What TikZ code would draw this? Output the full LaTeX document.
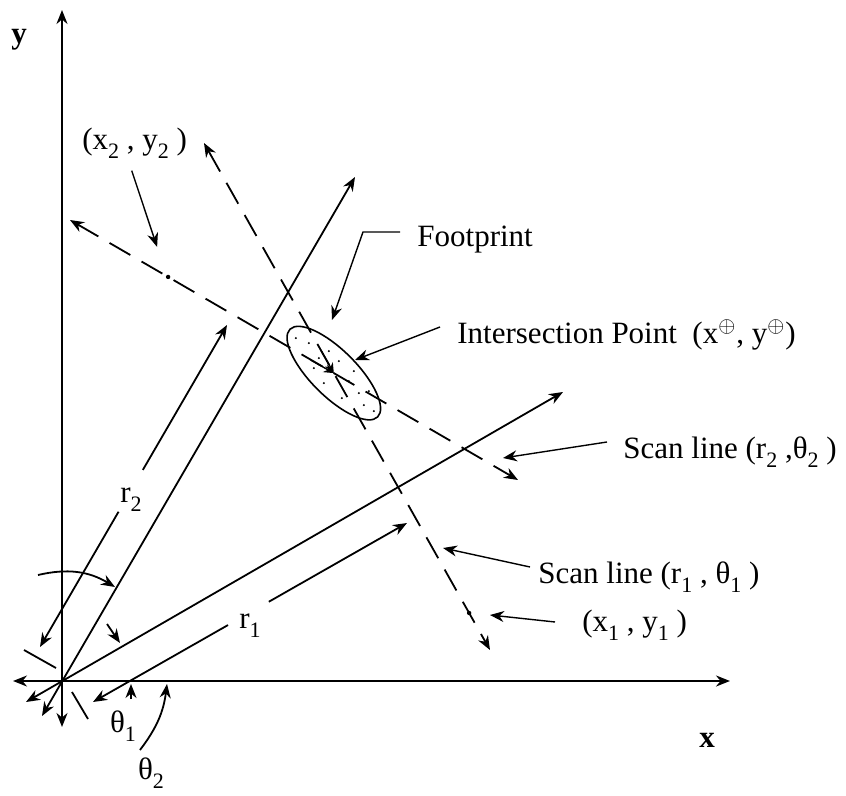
\documentclass[tikz,border=0pt]{standalone}
\usepackage{fontspec}
\setmainfont{Liberation Serif}
\usetikzlibrary{arrows.meta,calc}
\newcommand{\lowsub}[1]{\raisebox{-4.5pt}{\fontsize{11}{11}\selectfont #1}}

\begin{document}
\begin{tikzpicture}[
  x=0.5pt, y=-0.5pt,
  font=\fontsize{15.5}{18}\selectfont,
  ln/.style={line width=0.9pt},
  ar/.style={ln, -{Stealth[length=7pt, width=5.5pt]}},
  dar/.style={ln, {Stealth[length=7pt, width=5.5pt]}-{Stealth[length=7pt, width=5.5pt]}},
  scan/.style={dar, dash pattern=on 12pt off 6.5pt},
  lead/.style={line width=0.7pt, -{Stealth[length=7pt, width=5.5pt]}},
  small/.style={line width=0.7pt, -{Stealth[length=5pt, width=4.5pt]}},
  lbl/.style={inner sep=0pt, anchor=west}
]
\useasboundingbox (0,0) rectangle (846,796);
% axes and the two rays
\coordinate (O) at (62,681);
\coordinate (xl) at (13,681);   \coordinate (xr) at (730,681);
\coordinate (yt) at (62,10);    \coordinate (yb) at (62,727);
\coordinate (rtwo) at (355,177); \coordinate (rtwob) at (42,716);
\coordinate (rone) at (563,392); \coordinate (roneb) at (26,702);
\draw[dar] (xl) -- (xr);
\draw[dar] (yb) -- (yt);
\draw[dar] (rtwob) -- (rtwo);
\draw[dar] (roneb) -- (rone);
% scan lines
\coordinate (sonea) at (204,143); \coordinate (soneb) at (490,650);
\coordinate (stwoa) at (70,220);  \coordinate (stwob) at (518,480);
\draw[scan] (sonea) -- (soneb);
\draw[scan] (stwoa) -- (stwob);
\coordinate (ip) at (intersection of sonea--soneb and stwoa--stwob);
\coordinate (pone) at ($(sonea)!0.927!(soneb)$);
\coordinate (ptwo) at ($(stwoa)!0.219!(stwob)$);
\fill (pone) circle[radius=2.2];
\fill (ptwo) circle[radius=2.2];
% footprint
\draw[line width=0.8pt, rotate around={-45:(ip)}] (ip) ellipse[x radius=62, y radius=23];
\foreach \dx/\dy in {-20/-5, -10/10, 5/-12, 15/8, 25/20, 30/32, -25/-30, 8/25, 20/-2, -5/-22, 35/18, -15/-15, -38/-35, 40/38}
  \fill ([shift={(\dx,\dy)}]ip) circle[radius=1.1];
\draw[small] ([shift={(-13,-23)}]ip) -- (ip);
\draw[small] ([shift={(-23,-13)}]ip) -- (ip);
% dimension lines
\coordinate (dtwoa) at (40,647);  \coordinate (dtwob) at (227,325);
\coordinate (donea) at (93,702);  \coordinate (doneb) at (407,523);
\draw[ar] ($(dtwoa)!0.42!(dtwob)$) -- (dtwoa);
\draw[ar] ($(dtwoa)!0.55!(dtwob)$) -- (dtwob);
\draw[ar] ($(donea)!0.43!(doneb)$) -- (donea);
\draw[ar] ($(donea)!0.56!(doneb)$) -- (doneb);
\draw[ln] (24,650) -- (56,668);
\draw[ln] (72,692) -- (88,719);
\node (rtwolab) at (131,500) {r\lowsub{2}};
\node (ronelab) at (250,626) {r\lowsub{1}};
% angles
\draw[ar] (38,575) to[bend left=22] (115,587);
\draw[ar] (107,624) -- (120,643);
\draw[ar] (131,699) -- (131,684);
\draw[ar] (140,750) to[bend right=15] (167,684);
\node (thonelab) at (123,726) {θ\lowsub{1}};
\node (thtwolab) at (151,773) {θ\lowsub{2}};
\node (ylab) at (19,40) {\textbf{y}};
\node (xlab) at (707,740) {\textbf{x}};
% labels with leaders
\node[lbl] (lbxtwo) at (82,143) {(x\lowsub{2} , y\lowsub{2} )};
\node[lbl] (lbfoot) at (417,240) {Footprint};
\node[lbl] (lbint) at (457,335) {Intersection Point \ (x\textsuperscript{$\oplus$}, y\textsuperscript{$\oplus$})};
\node[lbl] (lbscantwo) at (623,452) {Scan line (r\lowsub{2} ,θ\lowsub{2} )};
\node[lbl] (lbscanone) at (538,577) {Scan line (r\lowsub{1} , θ\lowsub{1} )};
\node[lbl] (lbxone) at (582,625) {(x\lowsub{1} , y\lowsub{1} )};
\draw[lead] ([shift={(-3,12)}]lbxtwo.south) -- ([shift={(-11,-30)}]ptwo);
\draw[lead] ([shift={(-17,-8)}]lbfoot.west) -- ++(-37,0) -- (332,320);
\draw[lead] ([shift={(-17,-8)}]lbint.west) -- (355,360);
\draw[lead] ([shift={(-16,-10)}]lbscantwo.west) -- (503,458);
\draw[lead] ([shift={(-8,-10)}]lbscanone.west) -- (443,548);
\draw[lead] ([shift={(-27,-3)}]lbxone.west) -- (490,615);
\end{tikzpicture}
\end{document}
